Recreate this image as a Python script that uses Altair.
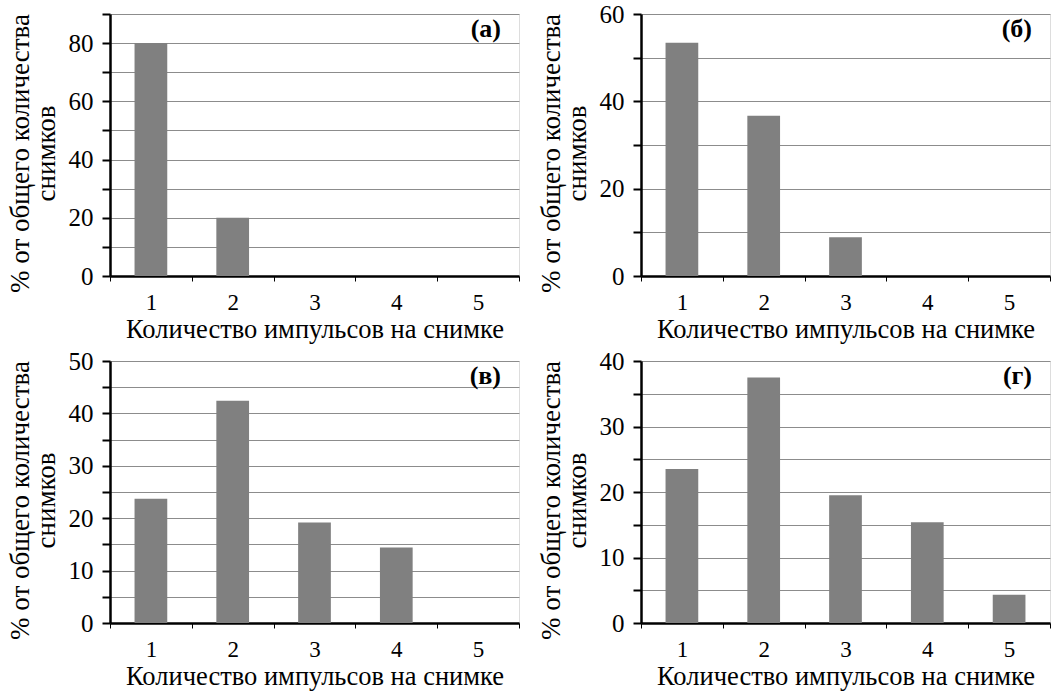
import altair as alt
import pandas as pd

categories = ["1", "2", "3", "4", "5"]
values_a = [80, 20, 0, 0, 0]
values_b = [53.4, 36.7, 8.9, 0, 0]
values_c = [23.7, 42.4, 19.2, 14.4, 0]
values_d = [23.5, 37.5, 19.5, 15.4, 4.3]
panel_labels = ["(а)", "(б)", "(в)", "(г)"]
y_max = [90, 60, 50, 40]
y_major = [20, 20, 10, 10]
y_minor = [10, 10, 5, 5]

y_title = ["% от общего количества", "снимков"]
x_title = "Количество импульсов на снимке"

FONT = "Liberation Serif"
W, H = 409, 262


def panel(vals, label, ymax, major, minor):
    df = pd.DataFrame({"cat": categories, "val": vals})
    ticks = list(range(0, ymax + 1, minor))
    bars = alt.Chart(df).mark_bar(color="#808080", width=alt.RelativeBandSize(0.4)).encode(
        x=alt.X(
            "cat:O",
            sort=categories,
            scale=alt.Scale(paddingInner=0, paddingOuter=0),
            axis=alt.Axis(
                title=x_title,
                labelAngle=0,
                labelFontSize=23,
                labelFont=FONT,
                labelColor="black",
                labelPadding=10,
                titleFont=FONT,
                titleFontSize=26.5,
                titleFontWeight="normal",
                titleColor="black",
                titlePadding=2,
                tickBand="extent",
                tickSize=5,
                tickColor="black",
                tickWidth=1,
                domainColor="black",
                domainWidth=2.5,
                grid=False,
            ),
        ),
        y=alt.Y(
            "val:Q",
            scale=alt.Scale(domain=[0, ymax], nice=False, zero=True),
            axis=alt.Axis(
                title=y_title,
                values=ticks,
                labelExpr=f"datum.value % {major} == 0 ? datum.label : ''",
                labelFontSize=25,
                labelFont=FONT,
                labelColor="black",
                labelPadding=9,
                titleFont=FONT,
                titleFontSize=27,
                titleFontWeight="normal",
                titleColor="black",
                titlePadding=8,
                titleLineHeight=26,
                titleY=H / 2 + 8,
                tickSize=8,
                tickColor="black",
                tickWidth=2,
                domainColor="black",
                domainWidth=2.5,
                grid=True,
                gridColor="#8c8c8c",
                gridWidth=1,
            ),
        ),
    )
    lab = alt.Chart(pd.DataFrame({"t": [label]})).mark_text(
        font=FONT, fontSize=26, fontWeight="bold", color="black", align="right", baseline="middle"
    ).encode(x=alt.value(W - 18), y=alt.value(15), text="t:N")
    return alt.layer(bars, lab).properties(width=W, height=H)


pa = panel(values_a, panel_labels[0], y_max[0], y_major[0], y_minor[0])
pb = panel(values_b, panel_labels[1], y_max[1], y_major[1], y_minor[1])
pc = panel(values_c, panel_labels[2], y_max[2], y_major[2], y_minor[2])
pd_ = panel(values_d, panel_labels[3], y_max[3], y_major[3], y_minor[3])

chart = alt.vconcat(
    alt.hconcat(pa, pb, spacing=16),
    alt.hconcat(pc, pd_, spacing=16),
    spacing=5,
).configure_view(stroke=None).configure_axis(
    labelFont=FONT, titleFont=FONT
).configure_text(font=FONT).configure(
    background="white", padding={"left": 5, "top": 1, "right": 3, "bottom": 1}
)

chart.save("out.html", embed_options={"renderer": "svg", "actions": False})
